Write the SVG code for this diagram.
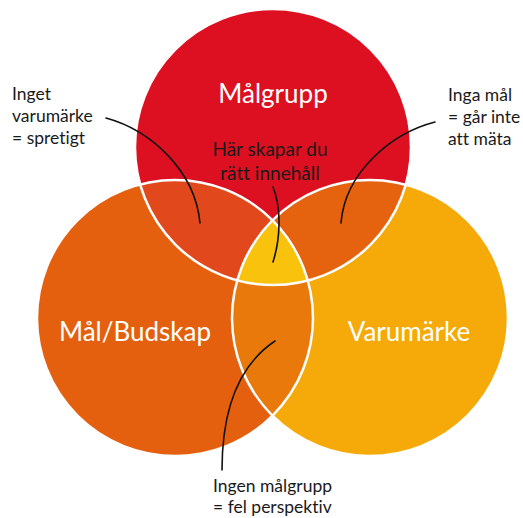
<svg xmlns="http://www.w3.org/2000/svg" width="523" height="518" viewBox="0 0 523 518">
  <style>
    text { font-variant-ligatures: none; }
    .big { font-family: Lato, "Open Sans", "Liberation Sans", sans-serif; font-size: 26px; fill: #ffffff; text-anchor: middle; }
    .lbl { font-family: Lato, "Open Sans", "Liberation Sans", sans-serif; font-size: 17.5px; fill: #1a1a1a; }
    .mid { font-family: Lato, "Open Sans", "Liberation Sans", sans-serif; font-size: 19px; fill: #1a1a1a; text-anchor: middle; }
    .edge { fill: none; stroke: #ffffff; stroke-width: 2.5; }
    .conn { fill: none; stroke: #111111; stroke-width: 1.6; stroke-linecap: round; }
  </style>
  <defs>
    <clipPath id="cTop"><circle cx="273" cy="147" r="138"/></clipPath>
    <clipPath id="cLeft"><circle cx="175" cy="318" r="138"/></clipPath>
    <clipPath id="cRight"><circle cx="370" cy="318" r="138"/></clipPath>
  </defs>

  <rect width="523" height="518" fill="#ffffff"/>

  <g id="malgrupp">
    <circle cx="273" cy="147" r="138" fill="#DC1021"/>
  </g>
  <g id="malbudskap">
    <circle cx="175" cy="318" r="138" fill="#E5600E"/>
  </g>
  <g id="varumarke">
    <circle cx="370" cy="318" r="138" fill="#F5AA09"/>
  </g>

  <g id="overlaps">
    <circle cx="273" cy="147" r="138" fill="#E1491C" clip-path="url(#cLeft)"/>
    <circle cx="273" cy="147" r="138" fill="#E5620F" clip-path="url(#cRight)"/>
    <circle cx="175" cy="318" r="138" fill="#E8790A" clip-path="url(#cRight)"/>
    <g clip-path="url(#cRight)">
      <circle cx="273" cy="147" r="138" fill="#F9C20C" clip-path="url(#cLeft)"/>
    </g>
  </g>

  <g id="outlines">
    <circle class="edge" cx="273" cy="147" r="138"/>
    <circle class="edge" cx="175" cy="318" r="138"/>
    <circle class="edge" cx="370" cy="318" r="138"/>
  </g>

  <g id="titles">
    <text class="big" x="273" y="103">Målgrupp</text>
    <text class="big" x="135" y="341">Mål/Budskap</text>
    <text class="big" x="409" y="341">Varumärke</text>
  </g>

  <g id="center-label">
    <text class="mid" x="270" y="156">Här skapar du</text>
    <text class="mid" x="270" y="180">rätt innehåll</text>
  </g>

  <g id="label-left">
    <text class="lbl" x="12" y="100">Inget</text>
    <text class="lbl" x="12" y="122">varumärke</text>
    <text class="lbl" x="12" y="144">= spretigt</text>
  </g>
  <g id="label-right">
    <text class="lbl" x="448" y="101">Inga mål</text>
    <text class="lbl" x="448" y="123">= går inte</text>
    <text class="lbl" x="448" y="145">att mäta</text>
  </g>
  <g id="label-bottom">
    <text class="lbl" x="213" y="492">Ingen målgrupp</text>
    <text class="lbl" x="213" y="513">= fel perspektiv</text>
  </g>

  <g id="connectors">
    <path class="conn" d="M106,118 C150,130 195,170 200,223"/>
    <path class="conn" d="M435,122 C392,133 345,172 341,223"/>
    <path class="conn" d="M273,187 C282,210 280,240 273,262"/>
    <path class="conn" d="M275,341 C242,363 222,405 222,470"/>
  </g>
</svg>
